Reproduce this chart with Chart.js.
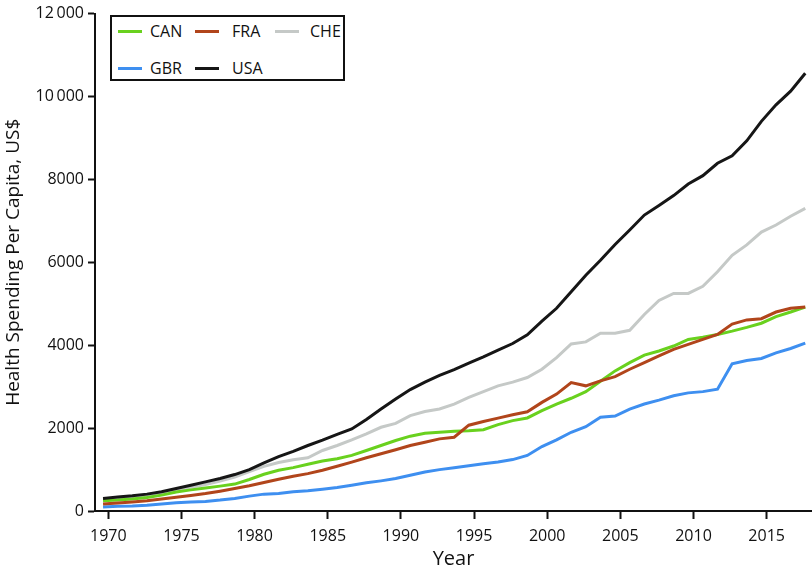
<!DOCTYPE html>
<html>
<head>
<meta charset="utf-8">
<script src="https://cdn.jsdelivr.net/npm/chart.js@4.4.1/dist/chart.umd.min.js"></script>
<style>
  body { margin: 0; background: #fff; }
  #wrap { position: relative; width: 812px; height: 573px; }
  #legend {
    position: absolute; left: 110px; top: 15px; width: 231px; height: 62px;
    border: 2px solid #111; background: #fff;
    font-family: "Open Sans", sans-serif; font-size: 16px; color: #111;
  }
  .item { position: absolute; height: 20px; line-height: 20px; }
  .swatch { position: absolute; top: 9px; left: 0; width: 24px; height: 3px; }
  .item span { position: absolute; white-space: nowrap; }
</style>
</head>
<body>
<div id="wrap">
  <canvas id="chart" width="812" height="573"></canvas>
  <div id="legend"></div>
</div>
<script>
const years = [1970, 1971, 1972, 1973, 1974, 1975, 1976, 1977, 1978, 1979,
  1980, 1981, 1982, 1983, 1984, 1985, 1986, 1987, 1988, 1989,
  1990, 1991, 1992, 1993, 1994, 1995, 1996, 1997, 1998, 1999,
  2000, 2001, 2002, 2003, 2004, 2005, 2006, 2007, 2008, 2009,
  2010, 2011, 2012, 2013, 2014, 2015, 2016, 2017, 2018];

const countries = ["CAN", "FRA", "CHE", "GBR", "USA"];
const colors = ["#69d11e", "#b1451b", "#c5c9c7", "#3e8ff0", "#161616"];

const can = [247, 263, 287, 327, 383, 460, 510, 555, 600, 650,
  760, 886, 982, 1046, 1126, 1205, 1262, 1341, 1460, 1580,
  1700, 1805, 1875, 1900, 1925, 1935, 1960, 2085, 2180, 2245,
  2420, 2580, 2720, 2880, 3130, 3380, 3580, 3760, 3860, 3980,
  4140, 4190, 4260, 4340, 4430, 4530, 4690, 4800, 4920];

const fra = [168, 192, 216, 247, 287, 330, 375, 423, 479, 543,
  610, 687, 765, 838, 902, 982, 1078, 1180, 1285, 1380,
  1477, 1580, 1660, 1740, 1780, 2070, 2160, 2240, 2320, 2395,
  2620, 2820, 3100, 3020, 3140, 3240, 3420, 3580, 3740, 3900,
  4020, 4140, 4260, 4510, 4610, 4640, 4800, 4890, 4920];

const che = [270, 300, 335, 375, 430, 500, 570, 640, 720, 820,
  950, 1078, 1170, 1238, 1285, 1460, 1580, 1715, 1860, 2020,
  2115, 2300, 2400, 2460, 2580, 2740, 2880, 3020, 3110, 3220,
  3420, 3700, 4030, 4080, 4290, 4290, 4360, 4740, 5080, 5250,
  5250, 5420, 5770, 6170, 6420, 6730, 6900, 7110, 7300];

const gbr = [96, 112, 120, 136, 168, 200, 216, 232, 263, 304,
  359, 407, 423, 463, 490, 527, 567, 623, 679, 727,
  782, 862, 942, 998, 1046, 1090, 1140, 1180, 1240, 1340,
  1555, 1715, 1900, 2035, 2260, 2290, 2460, 2580, 2675, 2780,
  2850, 2880, 2940, 3550, 3630, 3680, 3815, 3920, 4050];

const usa = [304, 335, 367, 407, 463, 543, 623, 703, 783, 879,
  999, 1160, 1310, 1440, 1580, 1710, 1850, 1980, 2210, 2460,
  2700, 2930, 3110, 3270, 3410, 3570, 3720, 3880, 4040, 4250,
  4580, 4890, 5290, 5690, 6050, 6430, 6780, 7140, 7370, 7610,
  7890, 8090, 8390, 8570, 8930, 9400, 9800, 10130, 10560];

const series = [can, fra, che, gbr, usa];
const drawOrder = [2, 1, 4, 3, 0]; // USA on top, CHE at the back

const yTicks = [0, 2000, 4000, 6000, 8000, 10000, 12000];
const xTicks = [1970, 1975, 1980, 1985, 1990, 1995, 2000, 2005, 2010, 2015];

const font = "'Open Sans', sans-serif";

const datasets = countries.map((c, i) => ({
  label: c,
  data: years.map((y, j) => ({ x: y, y: series[i][j] })),
  borderColor: colors[i],
  borderWidth: 3,
  pointRadius: 0,
  tension: 0,
  fill: false,
  order: drawOrder[i]
}));

new Chart(document.getElementById("chart"), {
  type: "line",
  data: { datasets: datasets },
  options: {
    responsive: false,
    animation: false,
    layout: { padding: { top: 10, right: 0, left: 0, bottom: 0 } },
    plugins: { legend: { display: false }, tooltip: { enabled: false } },
    scales: {
      x: {
        type: "linear",
        min: 1969.45,
        max: 2018.46,
        afterFit: (s) => { s.height = 62; },
        // ticks in the original sit a little right of the year points
        afterBuildTicks: (s) => { s.ticks = xTicks.map(v => ({ value: v + 0.36 })); },
        border: { display: true, color: "#111", width: 2 },
        grid: { drawOnChartArea: false, drawTicks: true, tickLength: 8, tickColor: "#111", tickWidth: 2 },
        ticks: {
          color: "#111", padding: 8, maxRotation: 0, autoSkip: false,
          font: { family: font, size: 16 },
          callback: (v) => String(Math.round(v))
        },
        title: {
          display: true, text: "Year", color: "#111",
          font: { family: font, size: 20 }, padding: { top: 0, bottom: 2 }
        }
      },
      y: {
        min: 0,
        max: 12000,
        afterFit: (s) => { s.width = 95; },
        afterBuildTicks: (s) => { s.ticks = yTicks.map(v => ({ value: v })); },
        border: { display: true, color: "#111", width: 2 },
        grid: { drawOnChartArea: false, drawTicks: true, tickLength: 7, tickColor: "#111", tickWidth: 2 },
        ticks: {
          color: "#111", padding: 4,
          font: { family: font, size: 16 },
          callback: (v) => v >= 10000 ? Math.floor(v / 1000) + "\u2009" + String(v % 1000).padStart(3, "0") : String(v)
        },
        title: {
          display: true, text: "Health Spending Per Capita, US$", color: "#111",
          font: { family: font, size: 19 }, padding: { top: 2, bottom: 0 }
        }
      }
    }
  }
});

// boxed legend, 3 items on the first row and 2 on the second
const legend = document.getElementById("legend");
const cols = [6, 83, 163];
const textOffset = [32, 37, 35];
const rows = [4, 41];
countries.forEach((c, i) => {
  const item = document.createElement("div");
  item.className = "item";
  item.style.left = cols[i % 3] + "px";
  item.style.top = rows[Math.floor(i / 3)] + "px";
  item.innerHTML = `<div class="swatch" style="background:${colors[i]}"></div><span style="left:${textOffset[i % 3]}px">${c}</span>`;
  legend.appendChild(item);
});
</script>
</body>
</html>
